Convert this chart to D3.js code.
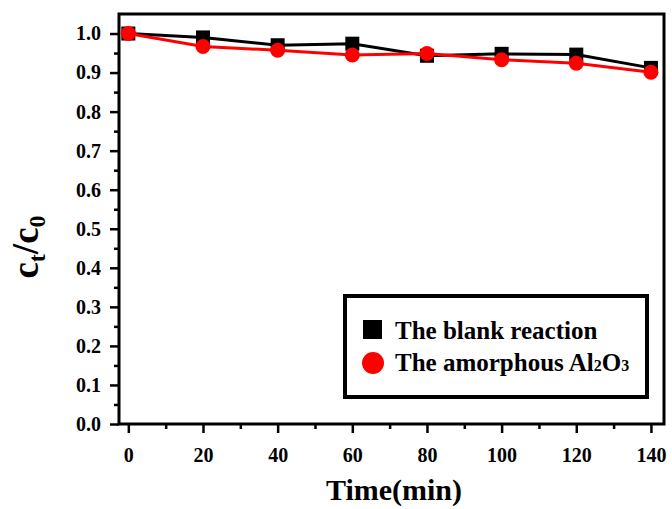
<!DOCTYPE html>
<html><head><meta charset="utf-8">
<script src="https://cdn.jsdelivr.net/npm/d3@7"></script>
<style>body{margin:0;background:#fff}svg{display:block}text{font-family:"Liberation Serif","Times New Roman",serif;font-weight:bold}</style>
</head><body>
<svg id="c" width="672" height="509"></svg>
<script>
const times = [0, 20, 40, 60, 80, 100, 120, 140];
const blank = [1.0, 0.99, 0.97, 0.974, 0.943, 0.948, 0.946, 0.912];
const amorphous = [1.0, 0.967, 0.957, 0.945, 0.949, 0.933, 0.924, 0.901];
const xTicks = [0, 20, 40, 60, 80, 100, 120, 140];
const yTicks = [0, 0.1, 0.2, 0.3, 0.4, 0.5, 0.6, 0.7, 0.8, 0.9, 1.0];

const FONT = '"Liberation Serif","Times New Roman",serif';
const svg = d3.select("#c");
const L = 119, R = 664, T = 14, B = 424;
const x = d3.scaleLinear().domain([-2.5, 143.5]).range([L, R]);
const y = d3.scaleLinear().domain([0, 1.05]).range([B, T]);

// minor ticks
svg.append("g").attr("transform", `translate(0,${B})`)
  .call(d3.axisBottom(x).tickValues(d3.range(10, 141, 20)).tickSize(5).tickFormat(""));
svg.append("g").attr("transform", `translate(0,${B})`)
  .call(d3.axisBottom(x).tickValues(xTicks).tickSize(9).tickPadding(15).tickFormat(d3.format("d")));
svg.append("g").attr("transform", `translate(${L},0)`)
  .call(d3.axisLeft(y).tickValues(d3.range(0.05, 1.05, 0.1)).tickSize(5).tickFormat(""));
svg.append("g").attr("transform", `translate(${L},0)`)
  .call(d3.axisLeft(y).tickValues(yTicks).tickSize(9).tickPadding(9).tickFormat(d3.format(".1f")));
svg.selectAll("g").attr("font-family", FONT).attr("font-size", 20);
svg.selectAll(".domain").remove();
svg.selectAll(".tick line").attr("stroke", "#000").attr("stroke-width", 2.5);
svg.selectAll(".tick text").attr("fill", "#000").attr("font-weight", "bold");

// frame
svg.append("rect").attr("x", L).attr("y", T).attr("width", R - L).attr("height", B - T)
  .attr("fill", "none").attr("stroke", "#000").attr("stroke-width", 3);

const line = d3.line().x((d, i) => x(times[i])).y(d => y(d));
svg.append("path").datum(blank).attr("d", line).attr("fill", "none").attr("stroke", "#000").attr("stroke-width", 3);
svg.selectAll(".sq").data(blank).enter().append("rect")
  .attr("x", (d, i) => x(times[i]) - 7).attr("y", d => y(d) - 7).attr("width", 14).attr("height", 14).attr("fill", "#000");
svg.append("path").datum(amorphous).attr("d", line).attr("fill", "none").attr("stroke", "#ff0000").attr("stroke-width", 3);
svg.selectAll(".ci").data(amorphous).enter().append("circle")
  .attr("cx", (d, i) => x(times[i])).attr("cy", d => y(d)).attr("r", 7.5).attr("fill", "#ff0000");

// legend
svg.append("rect").attr("x", 345).attr("y", 296).attr("width", 302).attr("height", 101)
  .attr("fill", "#fff").attr("stroke", "#000").attr("stroke-width", 4);
svg.append("rect").attr("x", 363).attr("y", 320).attr("width", 19).attr("height", 19).attr("fill", "#000");
svg.append("circle").attr("cx", 373).attr("cy", 363).attr("r", 11).attr("fill", "#ff0000");
svg.append("text").attr("x", 395).attr("y", 339).attr("font-size", 25).text("The blank reaction");
const t2 = svg.append("text").attr("x", 395).attr("y", 371).attr("font-size", 25);
t2.append("tspan").text("The amorphous Al");
t2.append("tspan").attr("font-size", 16).text("2");
t2.append("tspan").text("O");
t2.append("tspan").attr("font-size", 16).text("3");

// axis labels
svg.append("text").attr("x", 394).attr("y", 500).attr("text-anchor", "middle").attr("font-size", 30).text("Time(min)");
const yl = svg.append("text").attr("transform", "translate(38,247) rotate(-90)").attr("text-anchor", "middle").attr("font-size", 37);
yl.append("tspan").text("c");
yl.append("tspan").attr("font-size", 24).attr("dy", 7).text("t");
yl.append("tspan").attr("dy", -7).text("/c");
yl.append("tspan").attr("font-size", 24).attr("dy", 7).text("0");
</script>
</body></html>
